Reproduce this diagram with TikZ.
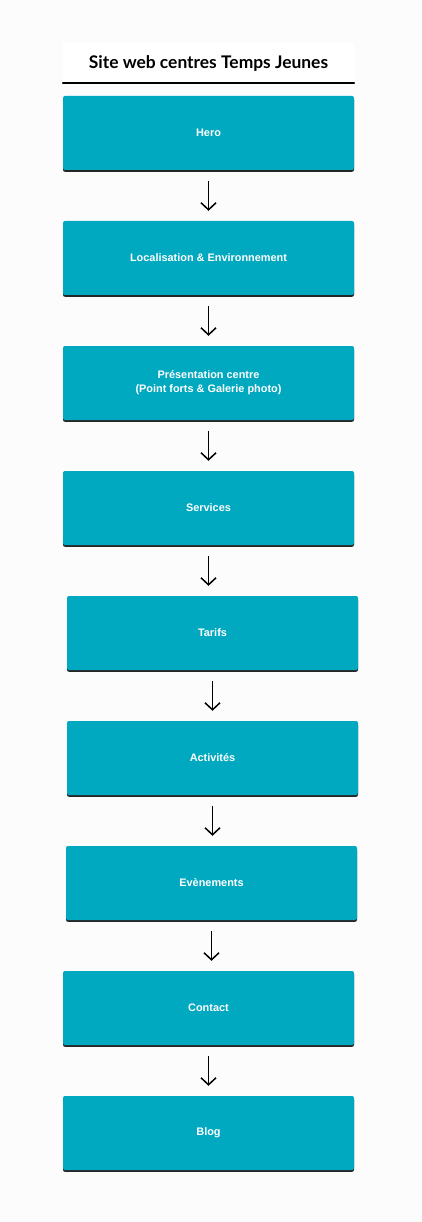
\documentclass[tikz,border=0pt]{standalone}
\usepackage{fontspec}
\usepackage{xcolor}
\usepackage{tikz}
\usetikzlibrary{positioning,calc,arrows.meta}
\newfontfamily\titrefont{Lato}
\newfontfamily\boitefont{Liberation Sans}
\definecolor{TJBleu}{RGB}{0,168,192}
\definecolor{TJFond}{RGB}{252,252,252}
\tikzset{
    section/.style={rectangle, rounded corners=2pt, fill=TJBleu, text=white,
        minimum width=291pt, minimum height=74pt, inner sep=0pt, align=center,
        font=\boitefont\bfseries\fontsize{10.9}{14}\selectfont,
        preaction={fill=black!85, transform canvas={yshift=-1.8pt}}},
    fleche/.style={draw=black, line width=1.5pt, -{Straight Barb[length=7pt, width=15pt, line width=1.5pt]}}
}

\begin{document}
\begin{tikzpicture}[x=1pt, y=1pt]
        % --- FOND ---
        \fill[TJFond] (0,0) rectangle (422,-1222);
        \useasboundingbox (0,0) rectangle (422,-1222);

        % --- TITRE ---
        \node[
            fill=white,
            minimum width=291pt,
            minimum height=40pt,
            inner sep=0pt,
            font=\titrefont\bfseries\fontsize{17.4}{20}\selectfont
        ] (titre) at (208.5, -63) {Site web centres Temps Jeunes};
        \draw[black, line width=1.6pt, line cap=round] (titre.south west) -- (titre.south east);

        % --- SECTIONS DU SITE ---
        \node[section] (hero) at (208.5, -133) {Hero};
        \node[section] (loc) at (208.5, -258) {Localisation \& Environnement};
        \node[section] (pres) at (208.5, -383) {Présentation centre\\(Point forts \& Galerie photo)};
        \node[section] (services) at (208.5, -508) {Services};
        % Tarifs et Activités légèrement décalés à droite
        \node[section] (tarifs) at (212.5, -633) {Tarifs};
        \node[section] (activites) at (212.5, -758) {Activités};
        \node[section] (evenements) at (211.5, -883) {Evènements};
        \node[section] (contact) at (208.5, -1008) {Contact};
        \node[section] (blog) at (208.5, -1133) {Blog};

        % --- FLECHES ---
        \foreach \haut/\bas in {hero/loc, loc/pres, pres/services, services/tarifs,
                tarifs/activites, activites/evenements, evenements/contact, contact/blog}
            \draw[fleche] ([yshift=-11pt]\haut.south) -- ([yshift=10pt]\haut.south |- \bas.north);

    \end{tikzpicture}
\end{document}
